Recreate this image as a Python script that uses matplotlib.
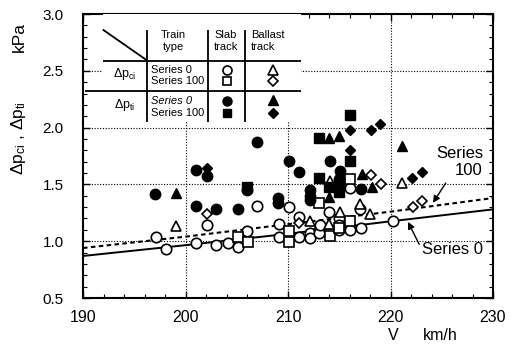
import matplotlib
matplotlib.use("Agg")
import matplotlib.pyplot as plt
from matplotlib.ticker import MultipleLocator

plt.rcParams['font.family'] = ['Liberation Sans', 'DejaVu Sans']
plt.rcParams['mathtext.fontset'] = 'custom'
plt.rcParams['mathtext.rm'] = 'Liberation Sans'
plt.rcParams['mathtext.it'] = 'Liberation Sans:italic'

# ---- data (V km/h, kPa) ----
ci_s0_slab_x = [197.1, 198.1, 201.0, 202.1, 203.0, 204.1, 205.1, 206.0, 207.0, 209.1, 209.1, 210.1,
                211.1, 211.1, 212.1, 212.1, 213.0, 213.0, 213.1, 214.0, 215.0, 215.0, 215.0, 216.0,
                216.1, 216.0, 217.0, 217.1, 220.2]
ci_s0_slab_y = [1.035, 0.93, 0.98, 1.14, 0.967, 0.98, 0.95, 1.09, 1.31, 1.15, 1.04, 1.30,
                1.21, 1.04, 1.07, 1.03, 1.10, 1.07, 1.14, 1.256, 1.20, 1.14, 1.10, 1.467,
                1.115, 1.10, 1.28, 1.115, 1.18]
ci_s100_slab_x = [205.1, 206.1, 210.1, 210.1, 213.0, 214.1, 216.0, 216.0, 215.0]
ci_s100_slab_y = [1.035, 0.99, 1.09, 0.99, 1.34, 1.05, 1.547, 1.18, 1.12]
ci_s0_ball_x = [199.1, 212.1, 214.1, 214.0, 215.1, 217.0, 218.0, 221.1]
ci_s0_ball_y = [1.135, 1.18, 1.53, 1.15, 1.256, 1.33, 1.24, 1.51]
ci_s100_ball_x = [202.1, 211.1, 218.1, 219.1, 222.2, 223.1]
ci_s100_ball_y = [1.24, 1.16, 1.585, 1.505, 1.305, 1.355]

ti_s0_slab_x = [197.0, 201.0, 201.0, 202.1, 203.0, 205.1, 206.0, 207.0, 209.0, 209.0, 210.1, 211.1,
                212.1, 212.1, 212.1, 214.1, 215.1, 215.0, 217.1]
ti_s0_slab_y = [1.417, 1.63, 1.31, 1.576, 1.285, 1.285, 1.45, 1.87, 1.38, 1.34, 1.71, 1.605,
                1.45, 1.40, 1.36, 1.71, 1.62, 1.55, 1.46]
ti_s100_slab_x = [206.0, 213.0, 213.0, 214.0, 215.0, 215.0, 216.0, 216.0]
ti_s100_slab_y = [1.48, 1.91, 1.56, 1.476, 1.50, 1.43, 2.11, 1.71]
ti_s0_ball_x = [199.1, 214.0, 215.0, 214.0, 217.2, 218.2, 221.1]
ti_s0_ball_y = [1.42, 1.91, 1.93, 1.39, 1.595, 1.48, 1.835]
ti_s100_ball_x = [202.1, 216.0, 216.0, 218.1, 219.0, 222.1, 223.1]
ti_s100_ball_y = [1.64, 1.98, 1.80, 1.98, 2.03, 1.555, 1.61]

curve_x = [190, 200, 210, 220, 230]
curve_s0_y = [0.87, 0.965, 1.065, 1.175, 1.28]
curve_s100_y = [0.94, 1.04, 1.15, 1.26, 1.38]

x_ticks = [190, 200, 210, 220, 230]
y_ticks = [0.5, 1.0, 1.5, 2.0, 2.5, 3.0]

fig = plt.figure(figsize=(5.18, 3.45), dpi=100)
ax = fig.add_axes([83/518, 1-298/345, 410/518, 284/345])
ax.set_xlim(190, 230)
ax.set_ylim(0.5, 3.0)

ax.set_xticks(x_ticks)
ax.set_yticks(y_ticks)
ax.set_xticklabels([str(t) for t in x_ticks])
ax.set_yticklabels(["%.1f" % t for t in y_ticks])
ax.xaxis.set_minor_locator(MultipleLocator(2))
ax.yaxis.set_minor_locator(MultipleLocator(0.1))
ax.tick_params(which='both', direction='in', top=True, right=True, color='black')
ax.tick_params(which='major', length=5, width=1.0)
ax.tick_params(which='minor', length=3, width=0.8)
ax.tick_params(axis='x', which='major', labelsize=11.5, pad=9)
ax.tick_params(axis='y', which='major', labelsize=11, pad=14)
for s in ax.spines.values():
    s.set_linewidth(1.5)

for v in [200, 210, 220]:
    ax.axvline(v, color='black', lw=0.8, ls=(0, (1, 1.5)), zorder=1)
for v in [1.0, 1.5, 2.0, 2.5]:
    ax.axhline(v, color='black', lw=0.8, ls=(0, (1, 1.5)), zorder=1)

ax.plot(curve_x, curve_s0_y, color='black', lw=1.4, zorder=2)
ax.plot(curve_x, curve_s100_y, color='black', lw=1.5, ls=(0, (2.2, 1.6)), zorder=2)

open_kw = dict(mfc='white', mec='black', mew=1.2, ls='none', zorder=4)
fill_kw = dict(mfc='black', mec='black', mew=1.0, ls='none', zorder=4)
ax.plot(ci_s0_slab_x, ci_s0_slab_y, marker='o', ms=7.5, **open_kw)
ax.plot(ci_s100_slab_x, ci_s100_slab_y, marker='s', ms=7, **open_kw)
ax.plot(ci_s0_ball_x, ci_s0_ball_y, marker='^', ms=7.5, **open_kw)
ax.plot(ci_s100_ball_x, ci_s100_ball_y, marker='D', ms=5.5, **open_kw)
ax.plot(ti_s0_slab_x, ti_s0_slab_y, marker='o', ms=7.5, **fill_kw)
ax.plot(ti_s100_slab_x, ti_s100_slab_y, marker='s', ms=7, **fill_kw)
ax.plot(ti_s0_ball_x, ti_s0_ball_y, marker='^', ms=7.5, **fill_kw)
ax.plot(ti_s100_ball_x, ti_s100_ball_y, marker='D', ms=5.5, **fill_kw)

# ---- legend table (pixel layout -> data coords) ----
def X(px):
    return 190 + (px - 83) / 10.25

def Y(py):
    return 0.5 + (298 - py) / 113.4

ax.add_patch(plt.Rectangle((X(103), Y(122)), X(300.7) - X(103), 3.0 - Y(122),
                           facecolor='white', edgecolor='none', zorder=5))
lk = dict(color='black', lw=1.3, zorder=6, solid_capstyle='butt')
ax.plot([X(102.7), X(147.3)], [Y(30), Y(61)], **lk)
ax.plot([X(102.7), X(300.7)], [Y(61), Y(61)], **lk)
ax.plot([X(85), X(300.7)], [Y(91.7), Y(91.7)], **lk)
for px in [147.3, 208.3, 245]:
    ax.plot([X(px), X(px)], [Y(30), Y(122)], **lk)

tk = dict(fontsize=8, zorder=7, va='center')
ax.text(X(173), Y(41.7), "Train\ntype", ha='center', multialignment='center', **tk)
ax.text(X(225.7), Y(41.7), "Slab\ntrack", ha='center', multialignment='center', **tk)
ax.text(X(250.7), Y(41.7), "Ballast\ntrack", ha='left', multialignment='left', **tk)
ax.text(X(125), Y(74), r"$\Delta\mathrm{p}_{\mathrm{ci}}$", ha='center', fontsize=9, zorder=7, va='center')
ax.text(X(125), Y(105), r"$\Delta\mathrm{p}_{\mathrm{ti}}$", ha='center', fontsize=9, zorder=7, va='center')
ax.text(X(150.7), Y(70.7), "Series 0", ha='left', **tk)
ax.text(X(150.7), Y(81.5), "Series 100", ha='left', **tk)
ax.text(X(150.7), Y(101.7), "Series 0", ha='left', style='italic', **tk)
ax.text(X(150.7), Y(113.5), "Series 100", ha='left', **tk)

lo = dict(mfc='white', mec='black', mew=1.2, ls='none', zorder=7)
lf = dict(mfc='black', mec='black', mew=1.0, ls='none', zorder=7)
ax.plot([X(226.7)], [Y(70.7)], marker='o', ms=6.5, **lo)
ax.plot([X(226.7)], [Y(81.5)], marker='s', ms=6, **lo)
ax.plot([X(273.3)], [Y(70.7)], marker='^', ms=6.5, **lo)
ax.plot([X(273.3)], [Y(81.7)], marker='D', ms=5, **lo)
ax.plot([X(226.7)], [Y(101.7)], marker='o', ms=6.5, **lf)
ax.plot([X(226.7)], [Y(113.3)], marker='s', ms=6, **lf)
ax.plot([X(273.3)], [Y(100)], marker='^', ms=6.5, **lf)
ax.plot([X(273.3)], [Y(113.3)], marker='D', ms=5, **lf)

# ---- annotations ----
ax.annotate("Series\n100", xy=(X(433), Y(203)), xytext=(X(483), Y(162)),
            ha='right', va='center', multialignment='right', fontsize=12, zorder=8,
            arrowprops=dict(arrowstyle='-|>', color='black', lw=1.0, mutation_scale=10,
                            shrinkA=2, shrinkB=0))
ax.annotate("Series 0", xy=(X(408), Y(222)), xytext=(X(483), Y(250)),
            ha='right', va='center', fontsize=12, zorder=8,
            arrowprops=dict(arrowstyle='-|>', color='black', lw=1.0, mutation_scale=10,
                            shrinkA=0, shrinkB=0, relpos=(0.0, 0.5)))

fig.text(388/518, 1-336/345, "V", fontsize=11.5, ha='left', va='center')
fig.text(423/518, 1-336/345, "km/h", fontsize=11.5, ha='left', va='center')
fig.text(19/518, 1-138/345, r"$\Delta\mathrm{p}_{\mathrm{ci}}$ , $\Delta\mathrm{p}_{\mathrm{ti}}$",
         rotation=90, fontsize=12.5, ha='center', va='center')
fig.text(19/518, 1-37/345, "kPa", rotation=90, fontsize=12.5, ha='center', va='center')

fig.savefig("out.png", dpi=100)
